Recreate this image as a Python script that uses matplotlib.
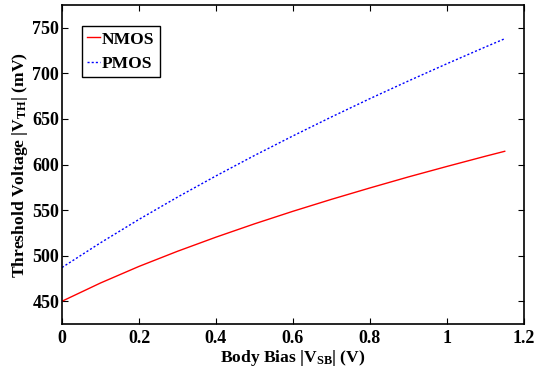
import matplotlib
matplotlib.use("Agg")
import matplotlib.pyplot as plt

# Body bias sweep (V) and threshold voltage magnitudes (mV)
vsb = [0.0, 0.1, 0.2, 0.3, 0.4, 0.5, 0.6, 0.7, 0.8, 0.9, 1.0, 1.1, 1.15]
vth_nmos = [450.0, 470.0, 488.2, 504.8, 520.3, 534.9, 548.7, 561.8, 574.3, 586.4, 597.9, 609.1, 614.5]
vth_pmos = [487.0, 514.1, 539.8, 564.2, 587.5, 609.9, 631.4, 652.2, 672.3, 691.7, 710.6, 729.0, 738.0]

xticks = [0, 0.2, 0.4, 0.6, 0.8, 1.0, 1.2]
xtick_labels = ["0", "0.2", "0.4", "0.6", "0.8", "1", "1.2"]
yticks = [450, 500, 550, 600, 650, 700, 750]

plt.rcParams["font.family"] = ["Liberation Serif", "DejaVu Serif"]
plt.rcParams["font.weight"] = "bold"
plt.rcParams["mathtext.fontset"] = "custom"
plt.rcParams["mathtext.rm"] = "Liberation Serif:bold"
plt.rcParams["mathtext.bf"] = "Liberation Serif:bold"
plt.rcParams["mathtext.it"] = "Liberation Serif:bold"
plt.rcParams["mathtext.default"] = "bf"

fig = plt.figure(figsize=(5.35, 3.79), dpi=100)
ax = fig.add_axes([0.1159, 0.1451, 0.8635, 0.8417])

ax.plot(vsb, vth_nmos, color="#ff0000", lw=1.0, ls="-", label="NMOS")
ax.plot(vsb, vth_pmos, color="#0000ff", lw=1.0, ls=(0, (1.5, 1.5)), label="PMOS")

ax.set_xlim(0, 1.2)
ax.set_ylim(425, 775)
ax.set_xticks(xticks)
ax.set_xticklabels(xtick_labels)
ax.set_yticks(yticks)

ax.tick_params(direction="in", length=4, width=0.8, top=True, right=True,
               labelsize=13)
ax.tick_params(axis="y", pad=2)
ax.tick_params(axis="x", pad=4)
for lab in ax.get_xticklabels() + ax.get_yticklabels():
    lab.set_fontweight("bold")
for s in ax.spines.values():
    s.set_linewidth(1.2)

ax.set_xlabel(r"Body Bias |V$_{SB}$| (V)", fontsize=12.6, fontweight="bold", labelpad=1)
ax.set_ylabel(r"Threshold Voltage |V$_{TH}$| (mV)", fontsize=12.6, fontweight="bold", labelpad=2)

leg = ax.legend(loc="upper left", bbox_to_anchor=(0.043, 0.934), fontsize=12.6,
                handlelength=0.75, handletextpad=0.1, borderpad=0.3,
                borderaxespad=0, labelspacing=0.45, fancybox=False, framealpha=1)
leg.get_frame().set_edgecolor("black")
leg.get_frame().set_linewidth(1.0)
for t in leg.get_texts():
    t.set_fontweight("bold")

fig.savefig("out.png", dpi=100)
